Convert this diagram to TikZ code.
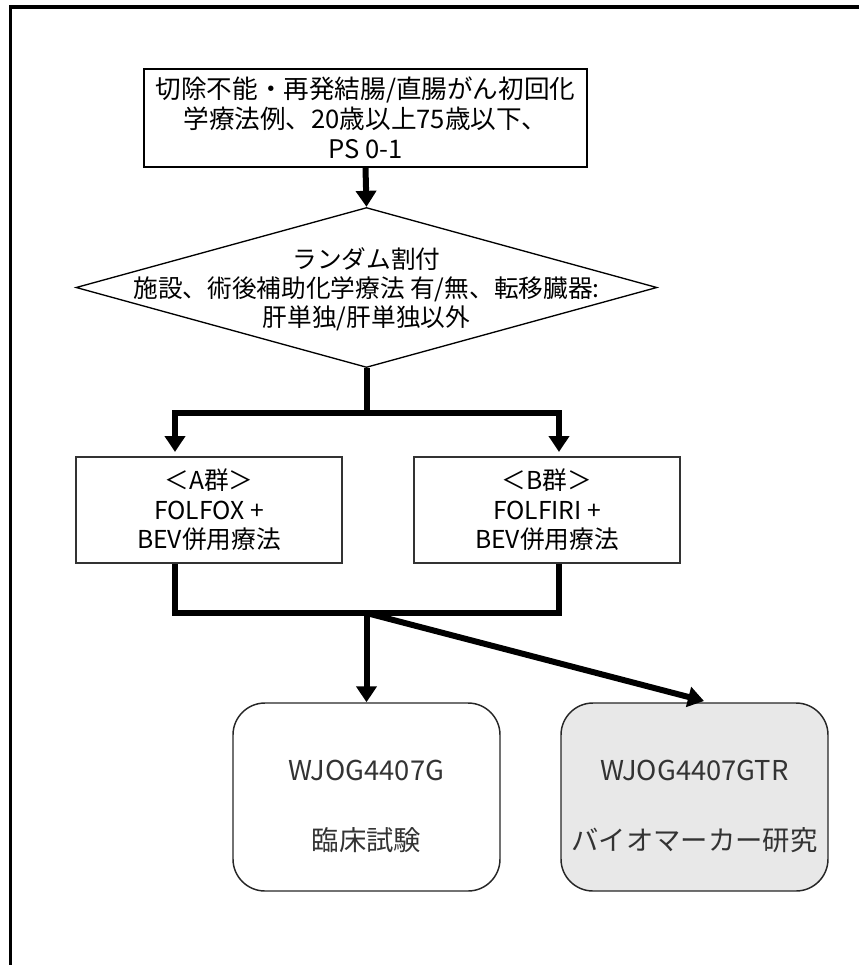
\documentclass[tikz,border=0pt]{standalone}
\usepackage{fontspec}
\setmainfont{Noto Sans CJK JP}
\usetikzlibrary{shapes.geometric,arrows.meta,calc}
\begin{document}
\begin{tikzpicture}[x=0.75pt,y=-0.75pt,
  txt/.style={font=\fontsize{18.5pt}{22pt}\selectfont, align=center, inner sep=0pt},
  topbox/.style={txt, draw=black, line width=1.4pt, rectangle,
    minimum width=332.25pt, minimum height=73.5pt},
  armbox/.style={txt, draw=black!80, line width=1.4pt, rectangle,
    minimum width=200pt, minimum height=79.5pt},
  decide/.style={draw=black, line width=1pt, diamond, inner sep=0pt,
    minimum width=435.75pt, minimum height=120pt},
  studybox/.style={draw=black!85, line width=1.1pt, rectangle, rounded corners=24pt,
    minimum width=200.25pt, minimum height=141pt, inner sep=0pt},
  studytxt/.style={font=\fontsize{20.5pt}{24pt}\selectfont, text=black!80, inner sep=0pt},
  flow/.style={line width=4.5pt, line join=miter, line cap=rect},
  arr/.style={line width=4.5pt, line join=miter, -{Triangle[length=12pt,width=15pt]}}
]
\useasboundingbox (0,0) rectangle (859,965);
% frame (top and left edges only)
\draw[line width=2.4pt] (10.5,965) -- (10.5,7) -- (859,7);

\node[topbox, font=\fontsize{19.2pt}{22.5pt}\selectfont] (top) at (365.5,118) {切除不能・再発結腸/直腸がん初回化\\学療法例、20歳以上75歳以下、\\PS 0-1};

\node[decide] (rand) at (366.5,287.5) {};
\node[txt, font=\fontsize{18.5pt}{21.75pt}\selectfont] (randtxt) at (366.5,289) {ランダム割付\\施設、術後補助化学療法 有/無、転移臓器:\\肝単独/肝単独以外};

\node[armbox] (armA) at (209,510) {＜A群＞\\FOLFOX +\\BEV併用療法};
\node[armbox] (armB) at (547,510) {＜B群＞\\FOLFIRI +\\BEV併用療法};

\node[studybox] (trial) at (366.5,797) {};
\node[studytxt] (trialA) at (366.5,770) {WJOG4407G};
\node[studytxt] (trialB) at (366.5,840) {臨床試験};

\node[studybox, fill=black!9] (bio) at (694.5,797) {};
\node[studytxt] (bioA) at (694.5,770) {WJOG4407GTR};
\node[studytxt] (bioB) at (694.5,840) {バイオマーカー研究};

% connectors
\coordinate (j1) at (366.5,413);
\coordinate (aIn) at (175,452);
\coordinate (bIn) at (559,452);
\coordinate (j2) at (366.5,613);
\coordinate (bioIn) at (704,701);

\draw[arr] (top.south) -- (rand.north);
\draw[flow, line cap=butt] (rand.south) -- (j1);
\draw[arr] (j1) -| (aIn);
\draw[arr] (j1) -| (bIn);
\draw[flow, line cap=butt] (armA.south -| aIn) |- (j2) -| (armB.south -| bIn);
\draw[arr] (j2) -- (trial.north);
\draw[arr] (j2) -- (bioIn);
\end{tikzpicture}
\end{document}
